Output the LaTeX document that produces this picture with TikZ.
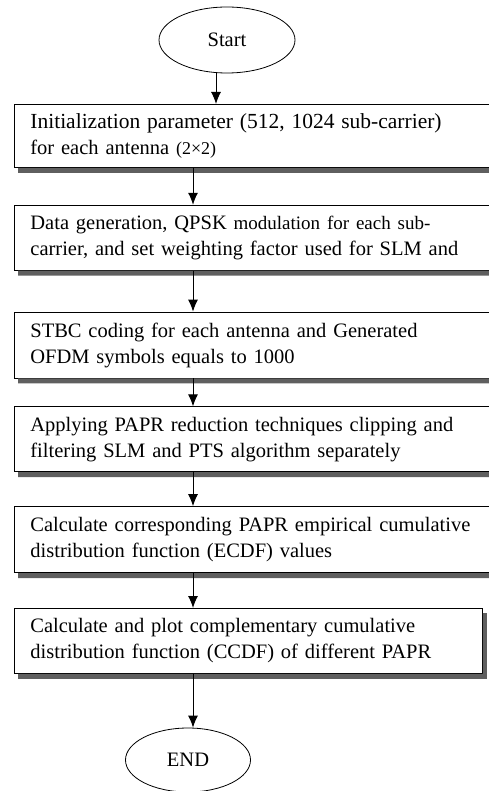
\documentclass[tikz,border=0pt]{standalone}
\usepackage{fontspec}
\setmainfont{Liberation Serif}
\usetikzlibrary{positioning,shapes.geometric,arrows.meta}
\definecolor{shadowgray}{RGB}{95,95,95}

\begin{document}
\begin{tikzpicture}[font=\fontsize{20.5}{26}\selectfont,
    stepbox/.style={draw, line width=0.8pt, fill=white, align=left, inner xsep=16pt, minimum height=65pt, anchor=north west},
    widebox/.style={stepbox, text width=460pt},
    terminal/.style={draw, ellipse, line width=0.8pt, inner sep=0pt},
    boxshadow/.style={fill=shadowgray},
    flow/.style={-{Latex[length=12pt,width=10pt]}, line width=1pt}]
    \useasboundingbox (0pt,0pt) rectangle (488pt,-791pt);
    \coordinate (startaxis) at (216pt,0pt);
    \coordinate (axis) at (193pt,0pt);
    \node[terminal, minimum width=136pt, minimum height=66pt] (start) at (227pt,-40pt) {Start};
    \node[widebox, minimum height=63pt] (init) at (14pt,-104pt) {{\fontsize{21.5}{26}\selectfont Initialization parameter (512, 1024 sub-carrier)}\\for each antenna {\fontsize{18}{26}\selectfont(2×2)}};
    \node[widebox, below=37pt of init.south west, anchor=north west] (datagen) {Data generation, QPSK {\fontsize{19}{26}\selectfont modulation for each sub-}\\carrier, and set weighting factor used for SLM and};
    \node[widebox, minimum height=66pt, below=41pt of datagen.south west, anchor=north west] (stbc) {STBC coding for each antenna and Generated\\OFDM symbols equals to 1000};
    \node[widebox, below=28pt of stbc.south west, anchor=north west] (papr) {Applying PAPR reduction techniques clipping and\\filtering SLM and PTS algorithm separately};
    \node[widebox, minimum height=66pt, below=34pt of papr.south west, anchor=north west] (ecdf) {Calculate corresponding PAPR empirical cumulative\\distribution function (ECDF) values};
    \node[stepbox, text width=436pt, below=35pt of ecdf.south west, anchor=north west] (ccdf) {Calculate and plot complementary cumulative\\distribution function (CCDF) of different PAPR};
    \node[terminal, minimum width=125pt, minimum height=64pt] (finish) at (188pt,-760pt) {END};
    \foreach \n in {init, datagen, stbc, papr, ecdf, ccdf}
        \fill[boxshadow] ([xshift=4pt]\n.south west) -- ([xshift=4pt, yshift=-5pt]\n.south west)
            -- ([xshift=4pt, yshift=-5pt]\n.south east) -- ([xshift=4pt, yshift=-5pt]\n.north east)
            -- ([yshift=-5pt]\n.north east) -- (\n.south east) -- cycle;
    \draw[flow] (start.south -| startaxis) -- (init.north -| startaxis);
    \foreach \a/\b in {init/datagen, datagen/stbc, stbc/papr, papr/ecdf, ecdf/ccdf, ccdf/finish}
        \draw[flow] (\a.south -| axis) -- (\b.north -| axis);
\end{tikzpicture}
\end{document}
